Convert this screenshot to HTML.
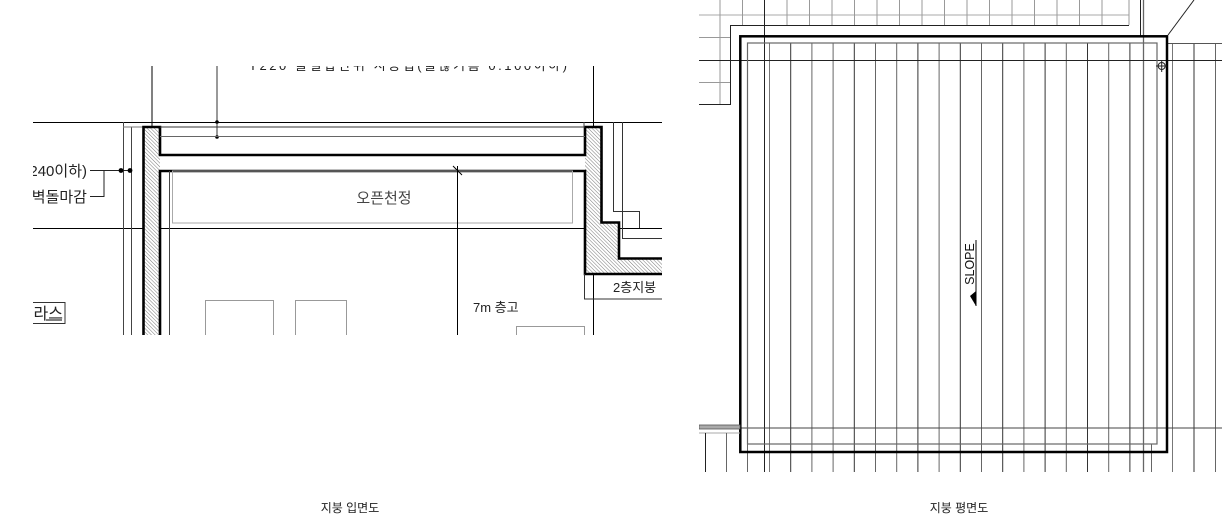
<!DOCTYPE html>
<html><head><meta charset="utf-8"><style>
html,body{margin:0;padding:0;background:#fff;}
svg{display:block;}
text{font-family:"Liberation Sans","Noto Sans CJK KR",sans-serif;}
</style></head><body>
<svg width="1222" height="525" viewBox="0 0 1222 525" xmlns="http://www.w3.org/2000/svg">
<defs>
<pattern id="h" patternUnits="userSpaceOnUse" width="2.6" height="2.6" patternTransform="rotate(-45)">
<rect width="2.6" height="2.6" fill="#fff"/><line x1="0" y1="0" x2="0" y2="2.6" stroke="#777" stroke-width="1"/>
</pattern>
<clipPath id="cl"><rect x="33" y="66" width="629" height="269"/></clipPath>
<clipPath id="cr"><rect x="699" y="0" width="523" height="472"/></clipPath>
</defs>

<g clip-path="url(#cl)" fill="none" stroke="#000" stroke-width="1">
<text x="408" y="70" font-size="13" fill="#222" stroke="none" text-anchor="middle" textLength="318">T220 물결합판위 시공법(물끊기홈 0.100이하)</text>
<line x1="33" y1="122.5" x2="662" y2="122.5"/>
<line x1="33" y1="228.5" x2="662" y2="228.5"/>
<line x1="152" y1="60" x2="152" y2="335"/>
<line x1="593.5" y1="60" x2="593.5" y2="335"/>
<line x1="217" y1="60" x2="217" y2="137" stroke="#333"/>
<circle cx="217" cy="122" r="1.8" fill="#000" stroke="none"/>
<circle cx="217" cy="137" r="1.8" fill="#000" stroke="none"/>
<line x1="123.5" y1="122" x2="123.5" y2="335" stroke="#444"/>
<line x1="131.5" y1="127" x2="131.5" y2="335" stroke="#444"/>
<line x1="123" y1="127" x2="160" y2="127" stroke="#777"/>
<path d="M143.5 335 V127 H160 V171 H585 V127 H601.5 V222.5 H619 V258.5 H662 V274 H585 V171 H160 V335 Z" fill="url(#h)" stroke="none"/>
<path d="M143.5 335 V127 H160 V155 H585 V127 H601.5 V222.5 H619 V258.5 H662" stroke-width="2.6"/>
<path d="M160 335 V171 H585 V274 H662" stroke-width="2.6"/>
<line x1="160" y1="127" x2="585" y2="127" stroke="#333"/>
<line x1="160" y1="136.5" x2="585" y2="136.5" stroke="#666"/>
<line x1="169.5" y1="171" x2="169.5" y2="335" stroke="#444"/>
<rect x="172.5" y="171" width="400" height="52" stroke="#aaa"/>
<text x="384" y="203" font-size="15" fill="#444" stroke="none" text-anchor="middle">오픈천정</text>
<line x1="584" y1="122" x2="584" y2="127" stroke="#444"/>
<path d="M613.5 122 V211.5 H639.5 V228" stroke="#333"/>
<path d="M622.5 122 V238.5 H662" stroke="#333"/>
<path d="M584.5 274 V299 H662" stroke="#333"/>
<text x="613" y="292" font-size="13" fill="#222" stroke="none">2층지붕</text>
<line x1="457.5" y1="166" x2="457.5" y2="335"/>
<line x1="453" y1="166" x2="462" y2="175"/>
<text x="473" y="312" font-size="13" fill="#222" stroke="none">7m 층고</text>
<rect x="205.5" y="300.5" width="68" height="40" stroke="#999"/>
<rect x="295.5" y="300.5" width="51" height="40" stroke="#999"/>
<rect x="516.5" y="326.5" width="68" height="20" stroke="#999"/>
<text x="87" y="176" font-size="15" fill="#222" stroke="none" text-anchor="end">(240이하)</text>
<text x="87" y="202" font-size="15" fill="#222" stroke="none" text-anchor="end">외벽돌마감</text>
<path d="M90 170.5 H130 M104 170.5 V196.5 H90" stroke="#222"/>
<circle cx="121" cy="170.5" r="2.4" fill="#000" stroke="none"/>
<circle cx="130" cy="170.5" r="2.4" fill="#000" stroke="none"/>
<rect x="20" y="302.5" width="45" height="21" stroke="#333"/>
<text x="63" y="319" font-size="16" fill="#222" stroke="none" text-anchor="end">테라스</text>
<line x1="46" y1="320" x2="62" y2="320" stroke="#000"/>
</g>

<g clip-path="url(#cr)" fill="none" stroke="#000" stroke-width="1">
<line x1="699" y1="15" x2="1129" y2="15" stroke="#aaa"/>
<g stroke="#999">
<line x1="720" y1="0" x2="720" y2="104"/>
<line x1="742.5" y1="0" x2="742.5" y2="25"/><line x1="787" y1="0" x2="787" y2="25"/>
<line x1="809.5" y1="0" x2="809.5" y2="25"/><line x1="832" y1="0" x2="832" y2="25"/>
<line x1="854.5" y1="0" x2="854.5" y2="25"/><line x1="877" y1="0" x2="877" y2="25"/>
<line x1="899.5" y1="0" x2="899.5" y2="25"/><line x1="922" y1="0" x2="922" y2="25"/>
<line x1="944.5" y1="0" x2="944.5" y2="25"/><line x1="967" y1="0" x2="967" y2="25"/>
<line x1="989.5" y1="0" x2="989.5" y2="25"/><line x1="1012" y1="0" x2="1012" y2="25"/>
<line x1="1034.5" y1="0" x2="1034.5" y2="25"/><line x1="1057" y1="0" x2="1057" y2="25"/>
<line x1="1079.5" y1="0" x2="1079.5" y2="25"/><line x1="1102" y1="0" x2="1102" y2="25"/>
<line x1="1129" y1="0" x2="1129" y2="25"/>
<line x1="699" y1="37.5" x2="730" y2="37.5"/><line x1="699" y1="82.5" x2="730" y2="82.5"/>
</g>
<path d="M699 104.5 H730.5 V25.5 H1129" stroke="#222"/>
<line x1="764.5" y1="0" x2="764.5" y2="472" stroke="#222"/>
<line x1="1140.5" y1="0" x2="1140.5" y2="36" stroke="#222"/>
<line x1="1143.5" y1="0" x2="1143.5" y2="472" stroke="#666" stroke-width="1.3"/>
<line x1="1168" y1="35" x2="1194" y2="0" stroke="#222"/>
<g stroke="#333">
<line x1="769.5" y1="43" x2="769.5" y2="472" stroke="#777"/>
<line x1="790.7" y1="43" x2="790.7" y2="472"/>
<line x1="811.9" y1="43" x2="811.9" y2="472" stroke="#666"/>
<line x1="833.1" y1="43" x2="833.1" y2="472" stroke="#666"/>
<line x1="854.3" y1="43" x2="854.3" y2="472"/>
<line x1="875.5" y1="43" x2="875.5" y2="472" stroke="#666"/>
<line x1="896.7" y1="43" x2="896.7" y2="472" stroke="#666"/>
<line x1="917.9" y1="43" x2="917.9" y2="472"/>
<line x1="939.1" y1="43" x2="939.1" y2="472" stroke="#666"/>
<line x1="960.3" y1="43" x2="960.3" y2="472"/>
<line x1="981.5" y1="43" x2="981.5" y2="472" stroke="#666"/>
<line x1="1002.7" y1="43" x2="1002.7" y2="472"/>
<line x1="1023.9" y1="43" x2="1023.9" y2="472" stroke="#666"/>
<line x1="1045.1" y1="43" x2="1045.1" y2="472"/>
<line x1="1066.3" y1="43" x2="1066.3" y2="472" stroke="#666"/>
<line x1="1087.5" y1="43" x2="1087.5" y2="472"/>
<line x1="1108.7" y1="43" x2="1108.7" y2="472" stroke="#666"/>
<line x1="1129.9" y1="43" x2="1129.9" y2="472"/>
<line x1="747.5" y1="444" x2="747.5" y2="472" stroke="#666"/>
<line x1="1151.5" y1="444" x2="1151.5" y2="472" stroke="#666"/>
<line x1="1172.5" y1="43" x2="1172.5" y2="472" stroke="#777"/>
<line x1="1194" y1="43" x2="1194" y2="472"/>
<line x1="1215.5" y1="43" x2="1215.5" y2="472" stroke="#666"/>
</g>
<line x1="699" y1="60.5" x2="1222" y2="60.5" stroke="#222"/>
<line x1="699" y1="428" x2="1222" y2="428" stroke="#444"/>
<line x1="1167" y1="43.5" x2="1222" y2="43.5" stroke="#555"/>
<rect x="747.5" y="43" width="409.5" height="401" stroke="#666" stroke-width="1.2"/>
<rect x="740.3" y="36.3" width="426.7" height="415.7" stroke="#000" stroke-width="2.5"/>
<rect x="699" y="425" width="41" height="4" fill="#aaa" stroke="#555" stroke-width="0.8"/>
<line x1="699" y1="433" x2="740" y2="433" stroke="#aaa"/>
<line x1="705.5" y1="433" x2="705.5" y2="472" stroke="#222"/>
<line x1="726.5" y1="433" x2="726.5" y2="472" stroke="#666"/>
<circle cx="1161.7" cy="66" r="3.5" stroke="#222"/>
<line x1="1156" y1="66" x2="1167" y2="66" stroke="#222"/>
<line x1="1161.7" y1="60" x2="1161.7" y2="72" stroke="#222"/>
<text transform="translate(974,264) rotate(-90)" font-size="12.5" fill="#111" stroke="none" text-anchor="middle">SLOPE</text>
<line x1="976" y1="240" x2="976" y2="306" stroke="#000"/>
<path d="M976 306 L970 296 L976 291 Z" fill="#000" stroke="none"/>
</g>

<text x="350" y="512" font-size="12" fill="#222" text-anchor="middle">지붕 입면도</text>
<text x="959" y="512" font-size="12" fill="#222" text-anchor="middle">지붕 평면도</text>
</svg>
</body></html>
